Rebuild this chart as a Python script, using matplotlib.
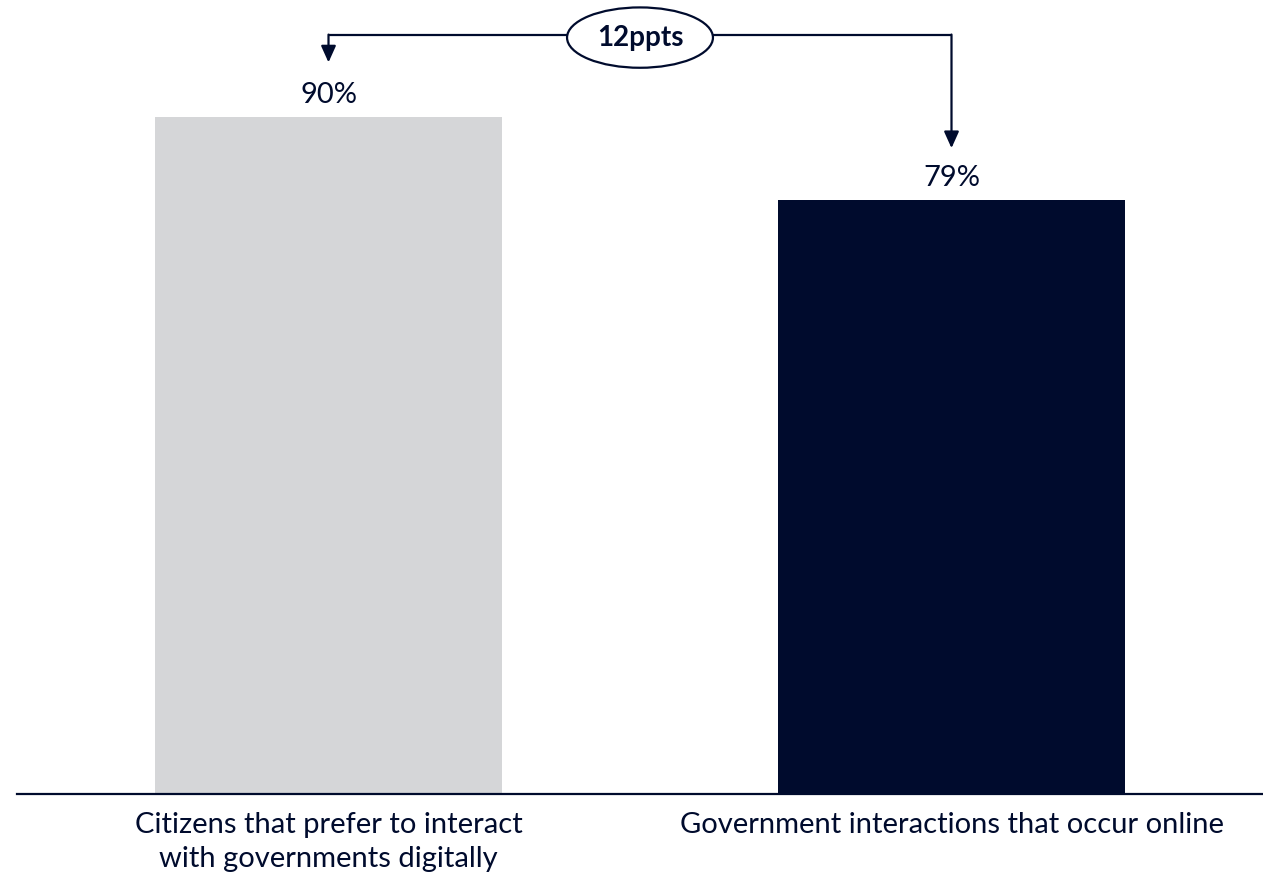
import matplotlib
matplotlib.use("Agg")
import matplotlib.pyplot as plt

categories = ["Citizens that prefer to interact\nwith governments digitally",
              "Government interactions that occur online"]
values = [90, 79]
value_labels = ["90%", "79%"]
gap_label = "12ppts"

NAVY = "#000B2D"
GREY = "#D5D6D8"
bar_colors = [GREY, NAVY]

plt.rcParams['font.family'] = ['Lato', 'DejaVu Sans']

W, H = 1263, 880
fig = plt.figure(figsize=(W / 100, H / 100), dpi=100)
ax = fig.add_axes([17 / W, (H - 794) / H, 1246 / W, 794 / H])

x = list(range(len(categories)))
ax.bar(x, values, width=0.557, color=bar_colors, zorder=2)
ax.set_xlim(-0.5, 1.5)
ax.set_ylim(0, 105.6)

for xi, v, lab in zip(x, values, value_labels):
    ax.text(xi, v + 2.9, lab, ha="center", va="center", fontsize=21, color=NAVY)

for s in ["top", "left", "right"]:
    ax.spines[s].set_visible(False)
ax.spines["bottom"].set_color(NAVY)
ax.spines["bottom"].set_linewidth(1.6)
ax.set_yticks([])
ax.set_xticks(x)
ax.set_xticklabels(categories, fontsize=21, color=NAVY, linespacing=1.4, va="top")
ax.tick_params(axis="x", length=0, pad=13)

# bracket annotation
ybr = 100.9
ax.plot([x[0], x[1]], [ybr, ybr], color=NAVY, lw=1.6, zorder=3, solid_capstyle="butt")
tips = [values[0] + 7.3, values[1] + 6.9]
for xi, tip in zip(x, tips):
    ax.annotate("", xy=(xi, tip), xytext=(xi, ybr + 0.1),
                arrowprops=dict(arrowstyle="-|>,head_length=1.0,head_width=0.45",
                                color=NAVY, lw=1.6, shrinkA=0, shrinkB=0))
ax.text(0.5, ybr - 0.3, gap_label, ha="center", va="center", fontsize=20,
        fontweight="bold", color=NAVY, zorder=5,
        bbox=dict(boxstyle="ellipse,pad=0.3", fc="white", ec=NAVY, lw=1.6))

fig.savefig("out.png", dpi=100)
